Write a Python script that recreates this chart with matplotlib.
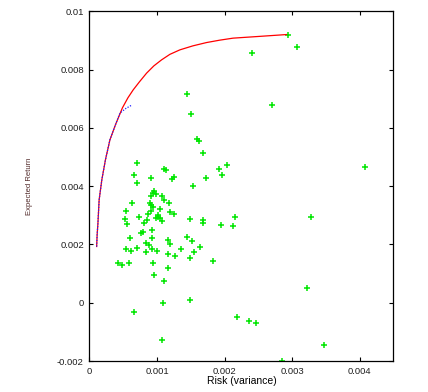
import numpy as np
import matplotlib.pyplot as plt

# efficient frontier (red) and the short blue dotted one
front_x = [0.0001065, 0.0001139, 0.0001257, 0.0001435, 0.0001834, 0.0002367, 0.0003033, 0.0003846,
           0.0004882, 0.0005695, 0.000648, 0.00074, 0.000846, 0.000954, 0.001068, 0.001191,
           0.001339, 0.001531, 0.001734, 0.00193, 0.002127, 0.002522, 0.002917]
front_y = [0.001931, 0.002333, 0.002734, 0.003533, 0.00422, 0.004906, 0.005592, 0.006106,
           0.006689, 0.007033, 0.007307, 0.007581, 0.00788, 0.00813, 0.008336, 0.008525,
           0.008679, 0.008816, 0.00893, 0.009012, 0.009081, 0.009142, 0.009204]
blue_x = [0.0001065, 0.0001139, 0.0001257, 0.0001435, 0.0001834, 0.0002367, 0.0003033, 0.0003846,
          0.000451, 0.00054, 0.000633]
blue_y = [0.001931, 0.002333, 0.002734, 0.003533, 0.00422, 0.004906, 0.005592, 0.006106,
          0.006508, 0.00667, 0.006792]

# single assets (risk, return)
risk = [0.002408, 0.001442, 0.001506, 0.0016, 0.00162, 0.001684, 0.000703, 0.000654, 0.000698,
        0.00091, 0.00111, 0.00113, 0.00122, 0.001255, 0.001527, 0.001723, 0.00192, 0.00197,
        0.00203, 0.00096, 0.00099, 0.00094, 0.00091, 0.00108,
        0.00294, 0.00307, 0.0027, 0.004075,
        0.003277, 0.003228, 0.00237, 0.00247, 0.00348, 0.00285,
        0.000624, 0.00089, 0.00091, 0.0011, 0.00118, 0.00054, 0.000935, 0.00105, 0.00091,
        0.00087, 0.0012, 0.001245, 0.000737, 0.00101, 0.00102, 0.00099, 0.00104,
        0.000525, 0.00149, 0.001675, 0.001675, 0.002157, 0.000855, 0.001068, 0.00055,
        0.00081, 0.00195, 0.00212, 0.000925, 0.00076, 0.0008, 0.0006, 0.000925, 0.001166,
        0.001442, 0.001516, 0.000836, 0.000876, 0.00119, 0.00054, 0.000707, 0.000925,
        0.00061, 0.00083, 0.001, 0.001157, 0.001358, 0.00164, 0.00155, 0.00127, 0.00149,
        0.00183, 0.000426, 0.000485, 0.000584, 0.00094, 0.00116, 0.000954, 0.0011,
        0.00109, 0.00149, 0.000658, 0.00218, 0.00107]
ret = [0.008576, 0.00716, 0.00649, 0.00561, 0.00555, 0.00515, 0.0048, 0.00439, 0.00412,
       0.00428, 0.00459, 0.00456, 0.00425, 0.00431, 0.0040, 0.00428, 0.00459, 0.00439,
       0.00473, 0.00382, 0.00373, 0.00376, 0.00365, 0.00366,
       0.00919, 0.00876, 0.00679, 0.00465,
       0.00294, 0.00051, -0.00063, -0.0007, -0.00146, -0.00199,
       0.00342, 0.00342, 0.00335, 0.00354, 0.00342, 0.00315, 0.0033, 0.00321, 0.00315,
       0.00303, 0.0031, 0.00304, 0.00296, 0.003, 0.00295, 0.00292, 0.00292,
       0.00287, 0.00287, 0.00285, 0.00275, 0.00294, 0.00285, 0.00282, 0.00269,
       0.00272, 0.00266, 0.00262, 0.0025, 0.00241, 0.00243, 0.00222, 0.00223, 0.00217,
       0.00225, 0.00213, 0.00206, 0.00199, 0.00202, 0.00185, 0.00189, 0.00186,
       0.00177, 0.00175, 0.00178, 0.00168, 0.00184, 0.0019, 0.00173, 0.00159, 0.00152,
       0.00143, 0.00137, 0.00131, 0.00137, 0.00136, 0.0012, 0.00095, 0.00074,
       -0.00001, 0.00009, -0.00031, -0.00048, -0.00128]

xticks = [0, 0.001, 0.002, 0.003, 0.004]
xticklabels = ['0', '0.001', '0.002', '0.003', '0.004']
yticks = [-0.002, 0, 0.002, 0.004, 0.006, 0.008, 0.01]
yticklabels = ['-0.002', '0', '0.002', '0.004', '0.006', '0.008', '0.01']

plt.rcParams['font.family'] = ['Liberation Sans', 'DejaVu Sans']

fig = plt.figure(figsize=(4.28, 3.92), dpi=100)
ax = fig.add_axes([0.209, 0.079, 0.71, 0.892])

ax.plot(risk, ret, linestyle='none', marker='+', color='#00e600', markersize=4.3, markeredgewidth=1.1, zorder=2)
ax.plot(front_x, front_y, color='red', linewidth=0.9, zorder=3)
ax.plot(blue_x, blue_y, color='#2020ff', linewidth=0.9, linestyle=(0, (1, 1.2)), zorder=4)

ax.set_xlim(0, 0.0045)
ax.set_ylim(-0.002, 0.01)
ax.set_xticks(xticks)
ax.set_xticklabels(xticklabels)
ax.set_yticks(yticks)
ax.set_yticklabels(yticklabels)
ax.tick_params(direction='in', top=True, right=True, length=3, width=0.8,
               labelsize=6.8, pad=4, colors='black', labelcolor='#202020')
for s in ax.spines.values():
    s.set_linewidth(0.9)

ax.set_xlabel('Risk (variance)', fontsize=7.5, labelpad=0.5)
ax.set_ylabel('Expected Return', fontsize=5.5, color='#502828', labelpad=17)

fig.savefig('out.png', dpi=100)
